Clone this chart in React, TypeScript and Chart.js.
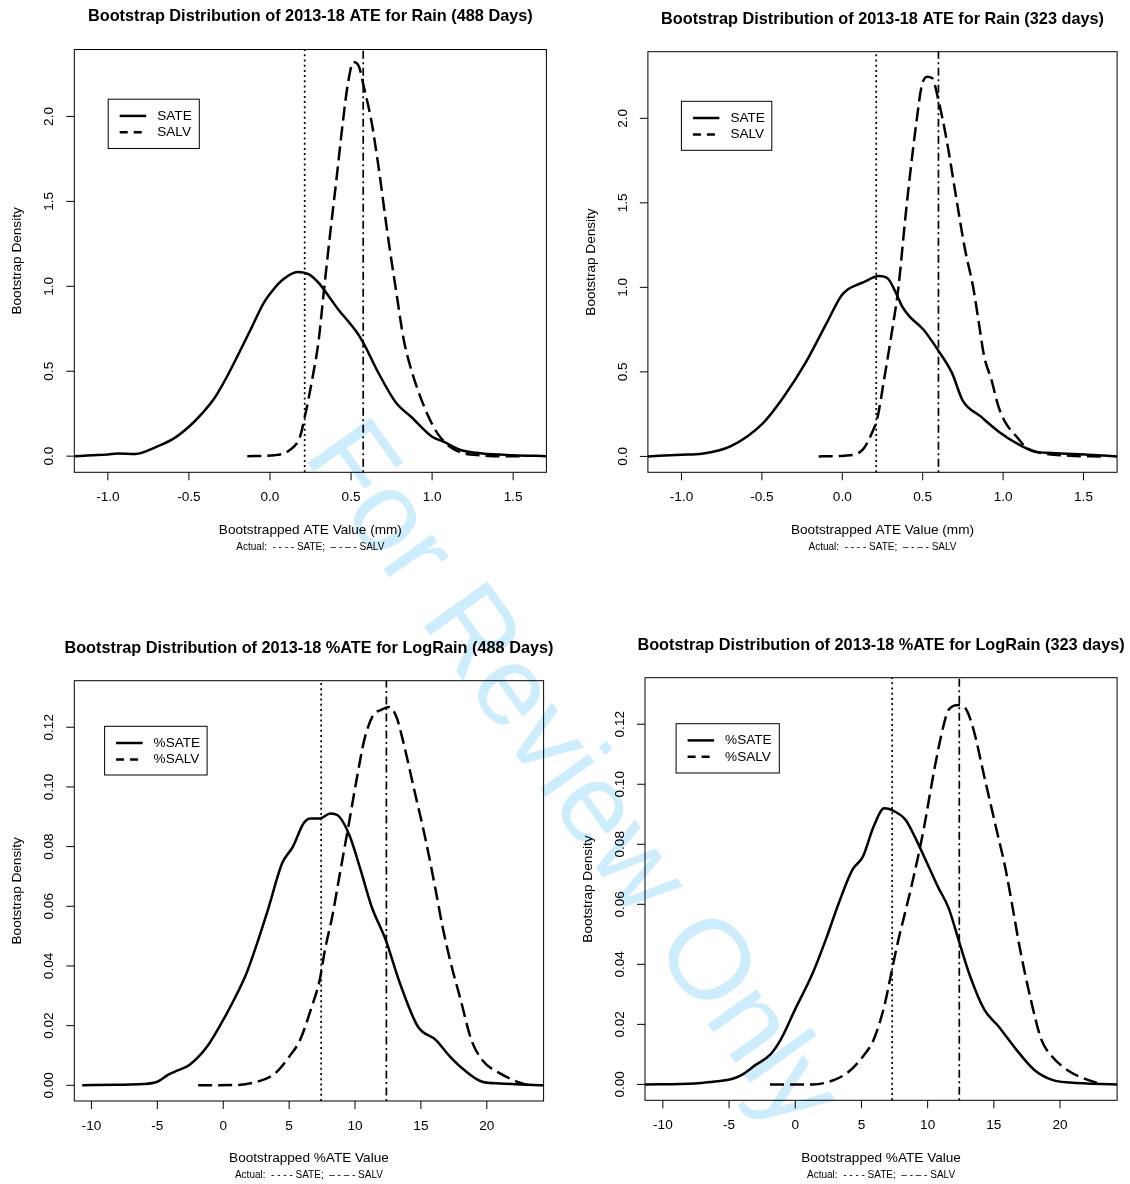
import React, { useEffect, useRef } from "react";
import { Chart, registerables } from "chart.js";

Chart.register(...registerables);

const FONT = '"Liberation Sans", Arial, Helvetica, sans-serif';

// ---------- Data: Rain ATE, 488 days ----------
const rain488SateX = [-1.207, -1.1, -1.0, -0.94, -0.83, -0.7, -0.6, -0.5, -0.42, -0.34, -0.26, -0.12, -0.04, 0.02, 0.08, 0.17, 0.24, 0.3, 0.36, 0.42, 0.49, 0.54, 0.58, 0.67, 0.78, 0.87, 1.0, 1.07, 1.18, 1.31, 1.5, 1.705];
const rain488SateY = [0.0, 0.005, 0.01, 0.016, 0.013, 0.055, 0.1, 0.173, 0.25, 0.345, 0.478, 0.744, 0.9, 0.98, 1.04, 1.084, 1.07, 1.02, 0.945, 0.865, 0.785, 0.724, 0.66, 0.488, 0.311, 0.232, 0.114, 0.085, 0.035, 0.016, 0.006, 0.0];
const rain488SalvX = [-0.14, 0.03, 0.12, 0.185, 0.21, 0.26, 0.3, 0.33, 0.37, 0.41, 0.45, 0.48, 0.515, 0.55, 0.58, 0.625, 0.67, 0.725, 0.78, 0.825, 0.86, 0.912, 0.978, 1.033, 1.11, 1.198, 1.3, 1.418, 1.54];
const rain488SalvY = [0.0, 0.006, 0.035, 0.114, 0.21, 0.45, 0.68, 0.95, 1.3, 1.63, 1.97, 2.19, 2.32, 2.29, 2.17, 1.976, 1.7, 1.31, 0.96, 0.685, 0.547, 0.39, 0.232, 0.134, 0.055, 0.016, 0.005, 0.0, 0.0];
const rain488Actual = [0.214, 0.575];

// ---------- Data: Rain ATE, 323 days ----------
const rain323SateX = [-1.209, -1.0, -0.873, -0.696, -0.496, -0.362, -0.229, -0.096, -0.007, 0.038, 0.08, 0.13, 0.227, 0.282, 0.33, 0.371, 0.416, 0.504, 0.593, 0.682, 0.749, 0.86, 0.971, 1.082, 1.193, 1.304, 1.527, 1.709];
const rain323SateY = [0.0, 0.01, 0.016, 0.059, 0.194, 0.356, 0.553, 0.791, 0.949, 0.99, 1.01, 1.03, 1.067, 1.053, 0.975, 0.889, 0.83, 0.751, 0.632, 0.494, 0.33, 0.237, 0.148, 0.079, 0.03, 0.02, 0.01, 0.0];
const rain323SalvX = [-0.147, 0.016, 0.127, 0.193, 0.216, 0.26, 0.304, 0.349, 0.393, 0.427, 0.46, 0.493, 0.527, 0.56, 0.593, 0.649, 0.704, 0.76, 0.816, 0.849, 0.882, 0.927, 0.971, 1.016, 1.082, 1.149, 1.238, 1.416, 1.616];
const rain323SalvY = [0.0, 0.004, 0.04, 0.158, 0.217, 0.455, 0.711, 1.0, 1.42, 1.714, 1.97, 2.187, 2.246, 2.237, 2.128, 1.872, 1.556, 1.24, 0.99, 0.791, 0.593, 0.455, 0.296, 0.198, 0.119, 0.049, 0.02, 0.004, 0.0];
const rain323Actual = [0.211, 0.598];

// ---------- Data: LogRain %ATE, 488 days ----------
const log488SateX = [-10.7, -8.0, -6.1, -5.0, -4.2, -3.66, -2.57, -1.22, -0.14, 0.68, 1.76, 2.57, 3.39, 4.47, 5.28, 6.1, 6.64, 7.32, 8.13, 8.81, 9.62, 10.43, 11.25, 12.33, 13.41, 14.77, 16.12, 17.21, 18.29, 19.65, 21.0, 24.31];
const log488SateY = [0.0, 0.0002, 0.0004, 0.0012, 0.0035, 0.0046, 0.0068, 0.013, 0.0208, 0.0275, 0.0375, 0.0476, 0.0588, 0.0744, 0.0799, 0.0878, 0.0894, 0.0894, 0.0911, 0.09, 0.0833, 0.0721, 0.06, 0.0487, 0.0342, 0.0197, 0.0152, 0.0096, 0.0051, 0.0012, 0.0006, 0.0];
const log488SalvX = [-1.9, 0.95, 2.57, 3.93, 5.01, 5.83, 6.64, 7.32, 7.72, 8.27, 8.81, 9.49, 10.16, 10.7, 11.38, 11.92, 12.6, 13.14, 13.69, 14.5, 15.31, 16.12, 16.6, 17.21, 18.02, 18.83, 19.65, 21.0, 22.63, 23.2];
const log488SalvY = [0.0, 0.0001, 0.0012, 0.004, 0.0096, 0.0152, 0.0253, 0.0353, 0.0454, 0.0565, 0.0699, 0.0866, 0.1034, 0.1157, 0.1241, 0.1257, 0.1268, 0.1235, 0.1146, 0.0989, 0.0833, 0.0654, 0.054, 0.042, 0.0286, 0.0152, 0.0085, 0.004, 0.0007, 0.0];
const log488Actual = [7.43, 12.38];

// ---------- Data: LogRain %ATE, 323 days ----------
const log323SateX = [-11.35, -7.57, -6.22, -4.87, -4.07, -2.99, -1.91, -1.1, -0.02, 1.33, 2.41, 3.22, 4.3, 5.11, 5.92, 6.72, 7.53, 8.34, 9.15, 9.96, 10.77, 11.58, 12.39, 13.2, 14.28, 15.36, 16.71, 18.06, 19.4, 20.75, 24.31];
const log323SateY = [0.0, 0.0003, 0.0009, 0.0017, 0.0031, 0.0065, 0.0098, 0.0149, 0.0249, 0.0372, 0.0495, 0.0596, 0.0714, 0.0759, 0.0859, 0.092, 0.0909, 0.0881, 0.0814, 0.0737, 0.0659, 0.0588, 0.0473, 0.0361, 0.0249, 0.0193, 0.0115, 0.0048, 0.0015, 0.0006, 0.0];
const log323SalvX = [-1.91, 1.33, 2.95, 4.03, 5.11, 5.92, 6.72, 7.26, 7.8, 8.34, 8.88, 9.69, 10.5, 11.18, 11.58, 12.39, 12.93, 13.47, 14.28, 15.09, 15.9, 16.44, 16.98, 17.79, 18.59, 19.4, 20.75, 22.1, 23.18];
const log323SalvY = [0.0, 0.0, 0.0015, 0.0042, 0.0093, 0.0149, 0.026, 0.0372, 0.0484, 0.058, 0.068, 0.0848, 0.1048, 0.1192, 0.1248, 0.1264, 0.1248, 0.1181, 0.1025, 0.087, 0.0714, 0.0584, 0.045, 0.0283, 0.0149, 0.0093, 0.0042, 0.0015, 0.0];
const log323Actual = [7.32, 12.39];

// ---------- Ticks ----------
const rainXTicks = [-1.0, -0.5, 0.0, 0.5, 1.0, 1.5];
const rainXTickLabels = ["-1.0", "-0.5", "0.0", "0.5", "1.0", "1.5"];
const rainYTicks = [0.0, 0.5, 1.0, 1.5, 2.0];
const rainYTickLabels = ["0.0", "0.5", "1.0", "1.5", "2.0"];
const logXTicks = [-10, -5, 0, 5, 10, 15, 20];
const logXTickLabels = ["-10", "-5", "0", "5", "10", "15", "20"];
const logYTicks = [0.0, 0.02, 0.04, 0.06, 0.08, 0.1, 0.12];
const logYTickLabels = ["0.00", "0.02", "0.04", "0.06", "0.08", "0.10", "0.12"];

const rainNames = ["SATE", "SALV"];
const logNames = ["%SATE", "%SALV"];

const caption = "Actual:  - - - - SATE;  – - – - SALV";

type Panel = {
  left: number;
  top: number;
  box: [number, number, number, number];
  xRange: [number, number];
  yRange: [number, number];
  title: string;
  xLabel: string;
  sateX: number[];
  sateY: number[];
  salvX: number[];
  salvY: number[];
  actual: number[];
  xTicks: number[];
  xTickLabels: string[];
  yTicks: number[];
  yTickLabels: string[];
  names: string[];
  legend: [number, number, number, number];
};

const CW = 565;
const CH = 592;

const panels: Panel[] = [
  {
    left: 0, top: 0, box: [74.3, 49.5, 546.4, 472.3],
    xRange: [-1.207, 1.705], yRange: [-0.095, 2.394],
    title: "Bootstrap Distribution of 2013-18 ATE for Rain (488 Days)",
    xLabel: "Bootstrapped ATE Value (mm)",
    sateX: rain488SateX, sateY: rain488SateY, salvX: rain488SalvX, salvY: rain488SalvY,
    actual: rain488Actual,
    xTicks: rainXTicks, xTickLabels: rainXTickLabels, yTicks: rainYTicks, yTickLabels: rainYTickLabels,
    names: rainNames, legend: [33.9, 49.7, 91.1, 49.3],
  },
  {
    left: 565, top: 0, box: [647.9, 51.7, 1117.1, 472.3],
    xRange: [-1.209, 1.709], yRange: [-0.094, 2.394],
    title: "Bootstrap Distribution of 2013-18 ATE for Rain (323 days)",
    xLabel: "Bootstrapped ATE Value (mm)",
    sateX: rain323SateX, sateY: rain323SateY, salvX: rain323SalvX, salvY: rain323SalvY,
    actual: rain323Actual,
    xTicks: rainXTicks, xTickLabels: rainXTickLabels, yTicks: rainYTicks, yTickLabels: rainYTickLabels,
    names: rainNames, legend: [33.5, 49.6, 90.4, 49],
  },
  {
    left: 0, top: 592, box: [74.3, 680.7, 543.6, 1101],
    xRange: [-11.3, 24.31], yRange: [-0.00526, 0.1356],
    title: "Bootstrap Distribution of 2013-18 %ATE for LogRain (488 Days)",
    xLabel: "Bootstrapped %ATE Value",
    sateX: log488SateX, sateY: log488SateY, salvX: log488SalvX, salvY: log488SalvY,
    actual: log488Actual,
    xTicks: logXTicks, xTickLabels: logXTickLabels, yTicks: logYTicks, yTickLabels: logYTickLabels,
    names: logNames, legend: [30.3, 45.6, 102.5, 48.7],
  },
  {
    left: 565, top: 592, box: [645, 677.7, 1117.1, 1100.3],
    xRange: [-11.35, 24.31], yRange: [-0.0053, 0.1355],
    title: "Bootstrap Distribution of 2013-18 %ATE for LogRain (323 days)",
    xLabel: "Bootstrapped %ATE Value",
    sateX: log323SateX, sateY: log323SateY, salvX: log323SalvX, salvY: log323SalvY,
    actual: log323Actual,
    xTicks: logXTicks, xTickLabels: logXTickLabels, yTicks: logYTicks, yTickLabels: logYTickLabels,
    names: logNames, legend: [31.1, 46, 103.2, 49.3],
  },
];

const CURVE_W = 2.5;
const CURVE_DASH = [14, 6];
const LEGEND_DASH = [8, 6];

function makePlugin(p: Panel) {
  return {
    id: "rstyle",
    afterDatasetsDraw(chart: any) {
      const ctx = chart.ctx as CanvasRenderingContext2D;
      const a = chart.chartArea;
      const xs = chart.scales.x;
      const styles = [
        { dash: [2, 3.2], w: 1.7 },
        { dash: [2, 3.5, 8, 3.5], w: 1.7 },
      ];
      p.actual.forEach((v, i) => {
        const px = xs.getPixelForValue(v);
        ctx.save();
        ctx.strokeStyle = "#000";
        ctx.lineWidth = styles[i].w;
        ctx.setLineDash(styles[i].dash);
        ctx.beginPath();
        ctx.moveTo(px, a.bottom);
        ctx.lineTo(px, a.top);
        ctx.stroke();
        ctx.restore();
      });
    },
    afterDraw(chart: any) {
      const ctx = chart.ctx as CanvasRenderingContext2D;
      const a = chart.chartArea;
      const xs = chart.scales.x;
      const ys = chart.scales.y;
      ctx.save();
      ctx.strokeStyle = "#000";
      ctx.fillStyle = "#000";
      ctx.lineWidth = 1;
      ctx.setLineDash([]);
      ctx.strokeRect(a.left, a.top, a.right - a.left, a.bottom - a.top);
      ctx.font = `13.6px ${FONT}`;
      ctx.textAlign = "center";
      ctx.textBaseline = "middle";
      p.xTicks.forEach((t, i) => {
        const px = xs.getPixelForValue(t);
        ctx.beginPath();
        ctx.moveTo(px, a.bottom);
        ctx.lineTo(px, a.bottom + 8);
        ctx.stroke();
        ctx.fillText(p.xTickLabels[i], px, a.bottom + 25);
      });
      p.yTicks.forEach((t, i) => {
        const py = ys.getPixelForValue(t);
        ctx.beginPath();
        ctx.moveTo(a.left, py);
        ctx.lineTo(a.left - 8, py);
        ctx.stroke();
        ctx.save();
        ctx.translate(a.left - 25, py);
        ctx.rotate(-Math.PI / 2);
        ctx.fillText(p.yTickLabels[i], 0, 0);
        ctx.restore();
      });
      const cx = (a.left + a.right) / 2;
      const cy = (a.top + a.bottom) / 2;
      ctx.fillText(p.xLabel, cx, a.bottom + 57.5);
      ctx.font = `10px ${FONT}`;
      ctx.fillText(caption, cx, a.bottom + 74.5);
      ctx.font = `13.6px ${FONT}`;
      ctx.save();
      ctx.translate(a.left - 57, cy);
      ctx.rotate(-Math.PI / 2);
      ctx.fillText("Bootstrap Density", 0, 0);
      ctx.restore();
      ctx.font = `bold 16.3px ${FONT}`;
      ctx.fillText(p.title, cx, a.top - 32.5);
      const [dx, dy, w, h] = p.legend;
      const lx = a.left + dx;
      const ly = a.top + dy;
      ctx.fillStyle = "#fff";
      ctx.fillRect(lx, ly, w, h);
      ctx.strokeRect(lx, ly, w, h);
      const rows = [16.7, 33.1];
      ctx.font = `13.6px ${FONT}`;
      ctx.textAlign = "left";
      rows.forEach((ry, i) => {
        ctx.save();
        ctx.lineWidth = CURVE_W;
        ctx.setLineDash(i === 0 ? [] : LEGEND_DASH);
        ctx.beginPath();
        ctx.moveTo(lx + 11.5, ly + ry);
        ctx.lineTo(lx + 38, ly + ry);
        ctx.stroke();
        ctx.restore();
        ctx.fillStyle = "#000";
        ctx.fillText(p.names[i], lx + 49, ly + ry);
      });
      ctx.restore();
    },
  };
}

function toPoints(xs: number[], ys: number[]) {
  return xs.map((x, i) => ({ x, y: ys[i] }));
}

function PanelChart({ p }: { p: Panel }) {
  const ref = useRef<HTMLCanvasElement>(null);
  useEffect(() => {
    const canvas = ref.current;
    if (!canvas) return;
    const chart = new Chart(canvas, {
      type: "line",
      data: {
        datasets: [
          {
            label: p.names[0],
            data: toPoints(p.sateX, p.sateY),
            borderColor: "#000",
            borderWidth: CURVE_W,
            pointRadius: 0,
            fill: false,
            cubicInterpolationMode: "monotone",
          },
          {
            label: p.names[1],
            data: toPoints(p.salvX, p.salvY),
            borderColor: "#000",
            borderWidth: CURVE_W,
            borderDash: CURVE_DASH,
            pointRadius: 0,
            fill: false,
            cubicInterpolationMode: "monotone",
          },
        ],
      },
      options: {
        responsive: false,
        animation: false,
        devicePixelRatio: 1,
        events: [],
        layout: {
          padding: {
            left: p.box[0] - p.left,
            top: p.box[1] - p.top,
            right: p.left + CW - p.box[2],
            bottom: p.top + CH - p.box[3],
          },
        },
        scales: {
          x: { type: "linear", min: p.xRange[0], max: p.xRange[1], display: false },
          y: { type: "linear", min: p.yRange[0], max: p.yRange[1], display: false },
        },
        plugins: {
          legend: { display: false },
          tooltip: { enabled: false },
          title: { display: false },
        },
      } as any,
      plugins: [makePlugin(p)],
    });
    return () => chart.destroy();
  }, [p]);
  return (
    <canvas
      ref={ref}
      width={CW}
      height={CH}
      style={{ position: "absolute", left: p.left, top: p.top, width: CW, height: CH }}
    />
  );
}

export default function App() {
  return (
    <div
      style={{
        position: "absolute",
        left: 0,
        top: 0,
        width: 1130,
        height: 1184,
        background: "#fff",
        overflow: "hidden",
      }}
    >
      <div
        style={{
          position: "absolute",
          left: 576,
          top: 773,
          transform: "translate(-50%, -50%) rotate(54.5deg)",
          fontFamily: FONT,
          fontSize: 113,
          lineHeight: 1,
          whiteSpace: "nowrap",
          color: "rgb(206,237,252)",
        }}
      >
        For Review Only
      </div>
      {panels.map((p, i) => (
        <PanelChart key={i} p={p} />
      ))}
    </div>
  );
}
